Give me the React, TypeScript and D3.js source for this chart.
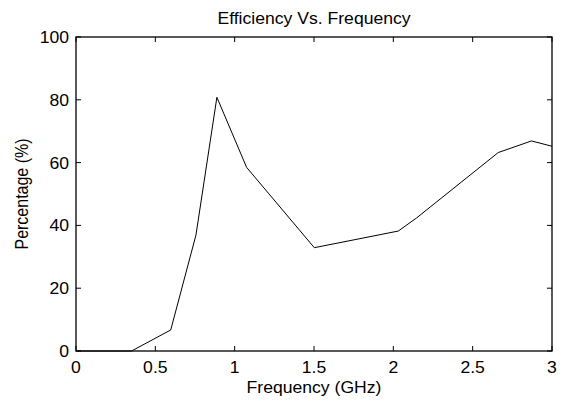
import React from "react";
import * as d3 from "d3";

const freq = [0, 0.35, 0.597, 0.756, 0.888, 1.075, 1.502, 2.031, 2.147, 2.661, 2.871, 3.0];
const eff = [0, 0, 6.7, 36.9, 80.8, 58.5, 32.9, 38.2, 42.4, 63.2, 66.9, 65.2];
const xTicks = [0, 0.5, 1, 1.5, 2, 2.5, 3];
const yTicks = [0, 20, 40, 60, 80, 100];
const title = "Efficiency Vs. Frequency";
const xLabel = "Frequency (GHz)";
const yLabel = "Percentage (%)";

const W = 563, H = 405;
const L = 76, R = 552, T = 37, B = 351;
const SX = 1.1;
const FONT = "'Liberation Sans', Arial, sans-serif";

export default function App() {
  const x = d3.scaleLinear().domain([0, 3]).range([L, R]);
  const y = d3.scaleLinear().domain([0, 100]).range([B, T]);
  const line = d3.line<number>().x((_, i) => x(freq[i])).y((d) => y(d));
  const tl = 5;
  const txt = (tx: number, ty: number, s: string, anchor: string, size: number, rot = 0) => (
    <text
      transform={`translate(${tx},${ty}) rotate(${rot}) scale(${rot ? 1 : SX},${rot ? SX : 1})`}
      textAnchor={anchor}
      fontSize={size}
      fontFamily={FONT}
      fill="#000"
    >
      {s}
    </text>
  );
  return (
    <svg width={W} height={H} style={{ position: "absolute", left: 0, top: 0, background: "#fff" }}>
      <rect x={0} y={0} width={W} height={H} fill="#fff" />
      <path d={line(eff) || ""} fill="none" stroke="#000" strokeWidth={1} />
      <rect x={L} y={T} width={R - L} height={B - T} fill="none" stroke="#000" strokeWidth={1.3} />
      {xTicks.map((t) => (
        <g key={"x" + t}>
          <line x1={x(t)} x2={x(t)} y1={B} y2={B - tl} stroke="#000" />
          <line x1={x(t)} x2={x(t)} y1={T} y2={T + tl} stroke="#000" />
          {txt(x(t), B + 22, String(t), "middle", 16)}
        </g>
      ))}
      {yTicks.map((t) => (
        <g key={"y" + t}>
          <line x1={L} x2={L + tl} y1={y(t)} y2={y(t)} stroke="#000" />
          <line x1={R} x2={R - tl} y1={y(t)} y2={y(t)} stroke="#000" />
          {txt(L - 7, y(t) + 6, String(t), "end", 16)}
        </g>
      ))}
      {txt((L + R) / 2, 24, title, "middle", 16)}
      {txt((L + R) / 2, 393, xLabel, "middle", 16)}
      {txt(28, (T + B) / 2, yLabel, "middle", 16, -90)}
    </svg>
  );
}
